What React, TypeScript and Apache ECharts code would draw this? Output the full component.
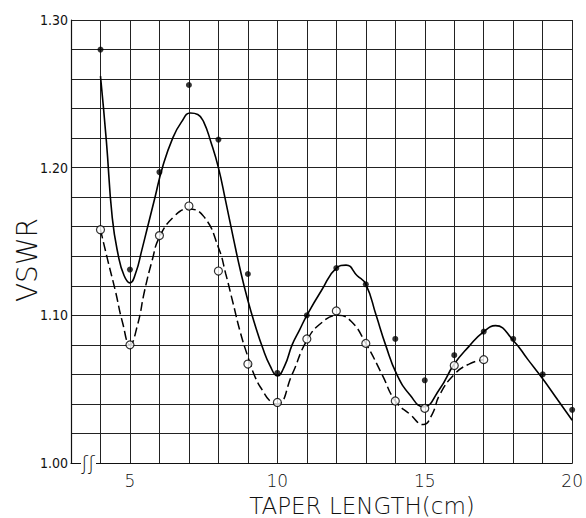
import React, { useEffect, useRef } from "react";
import * as echarts from "echarts";

// Measured points (filled dots) – upper data set
const solidDotX = [4, 5, 6, 7, 8, 9, 10, 11, 12, 13, 14, 15, 16, 17, 18, 19, 20];
const solidDotY = [1.28, 1.131, 1.197, 1.256, 1.219, 1.128, 1.061, 1.1, 1.132, 1.121, 1.084, 1.056, 1.073, 1.089, 1.084, 1.06, 1.036];

// Measured points (open circles) – lower data set
const openDotX = [4, 5, 6, 7, 8, 9, 10, 11, 12, 13, 14, 15, 16, 17];
const openDotY = [1.158, 1.08, 1.154, 1.174, 1.13, 1.067, 1.041, 1.084, 1.103, 1.081, 1.042, 1.037, 1.066, 1.07];

// Hand-drawn solid curve
const solidCurveX = [4, 4.2, 4.4, 4.6, 4.8, 5, 5.2, 5.4, 5.6, 5.85, 6.1, 6.45, 6.75, 7.05, 7.3, 7.5, 7.75, 8, 8.25, 8.5, 8.75, 9, 9.25, 9.5, 9.75, 10, 10.25, 10.5, 10.75, 11, 11.5, 12, 12.33, 12.7, 13, 13.35, 13.67, 14.05, 14.5, 14.95, 15.5, 16, 16.5, 17, 17.4, 18, 18.5, 19, 19.5, 20];
const solidCurveY = [1.262, 1.218, 1.166, 1.141, 1.127, 1.122, 1.129, 1.144, 1.16, 1.18, 1.2, 1.22, 1.231, 1.237, 1.236, 1.231, 1.217, 1.2, 1.177, 1.153, 1.13, 1.11, 1.093, 1.078, 1.066, 1.059, 1.066, 1.08, 1.09, 1.1, 1.117, 1.132, 1.134, 1.127, 1.121, 1.1, 1.08, 1.06, 1.046, 1.038, 1.05, 1.067, 1.079, 1.089, 1.093, 1.083, 1.07, 1.057, 1.043, 1.029];

// Hand-drawn dashed curve
const dashCurveX = [4, 4.25, 4.5, 4.75, 5, 5.25, 5.5, 5.75, 6, 6.5, 6.97, 7.5, 8, 8.25, 8.5, 8.75, 9, 9.25, 9.5, 9.75, 10, 10.5, 11, 11.5, 12.05, 12.5, 13, 13.55, 14, 14.5, 14.95, 15.25, 15.5, 16, 16.5, 17];
const dashCurveY = [1.158, 1.137, 1.117, 1.095, 1.08, 1.093, 1.117, 1.137, 1.153, 1.167, 1.172, 1.167, 1.146, 1.128, 1.108, 1.088, 1.072, 1.058, 1.049, 1.042, 1.04, 1.06, 1.083, 1.095, 1.1, 1.096, 1.081, 1.06, 1.042, 1.033, 1.026, 1.033, 1.046, 1.06, 1.067, 1.07];

const xTickLabels = [5, 10, 15, 20];
const yTickLabels = ["1.00", "1.10", "1.20", "1.30"];

const zip = (xs: number[], ys: number[]) => xs.map((x, i) => [x, ys[i]]);

export default function App() {
  const ref = useRef<HTMLDivElement>(null);
  useEffect(() => {
    if (!ref.current) return;
    const chart = echarts.init(ref.current, undefined, { renderer: "svg" });
    const narrow = "'Liberation Sans Narrow', 'DejaVu Sans Condensed', 'Liberation Sans', sans-serif";
    const light = "'DejaVu Sans', 'Liberation Sans', sans-serif";
    chart.setOption({
      animation: false,
      backgroundColor: "#ffffff",
      grid: { left: 71, right: 9, top: 20, bottom: 55, containLabel: false },
      xAxis: {
        type: "value",
        min: 3,
        max: 20,
        interval: 1,
        axisLine: { show: true, lineStyle: { color: "#111", width: 1.2 } },
        axisTick: { show: false },
        splitLine: { show: true, lineStyle: { color: "#222", width: 1 } },
        axisLabel: {
          color: "#111",
          fontSize: 17,
          fontFamily: light,
          fontWeight: 200,
          margin: 9,
          formatter: (v: number) => (xTickLabels.includes(Math.round(v)) && Math.abs(v - Math.round(v)) < 1e-6 ? String(Math.round(v)) : ""),
        },
      },
      yAxis: {
        type: "value",
        min: 1.0,
        max: 1.3,
        interval: 0.02,
        axisLine: { show: true, lineStyle: { color: "#111", width: 1.2 } },
        axisTick: { show: false },
        splitLine: { show: true, lineStyle: { color: "#222", width: 1 } },
        axisLabel: {
          color: "#111",
          fontSize: 14,
          fontFamily: narrow,
          margin: 3,
          formatter: (v: number) => {
            const s = v.toFixed(2);
            return yTickLabels.includes(s) ? s : "";
          },
        },
      },
      graphic: [
        { type: "rect", shape: { x: 81, y: 458, width: 15, height: 9 }, style: { fill: "#fff" }, z: 100 },
        {
          type: "text",
          x: 88,
          y: 463,
          z: 101,
          style: { text: "ʃʃ", font: "200 20px 'DejaVu Sans', sans-serif", fill: "#111", textAlign: "center", textVerticalAlign: "middle" },
        },
        {
          type: "text",
          x: 27,
          y: 260,
          rotation: Math.PI / 2,
          style: { text: "VSWR", font: "200 28px 'DejaVu Sans', sans-serif", fill: "#111", textAlign: "center", textVerticalAlign: "middle" },
        },
        {
          type: "text",
          x: 362,
          y: 506,
          style: { text: "TAPER LENGTH(cm)", font: "200 23px 'DejaVu Sans', sans-serif", fill: "#111", textAlign: "center", textVerticalAlign: "middle" },
        },
      ],
      series: [
        {
          type: "line",
          name: "solid curve",
          data: zip(solidCurveX, solidCurveY),
          smooth: 0.5,
          showSymbol: false,
          lineStyle: { color: "#000", width: 1.6 },
          z: 3,
        },
        {
          type: "line",
          name: "dashed curve",
          data: zip(dashCurveX, dashCurveY),
          smooth: 0.5,
          showSymbol: false,
          lineStyle: { color: "#000", width: 1.5, type: [9, 4] },
          z: 3,
        },
        {
          type: "scatter",
          name: "filled",
          data: zip(solidDotX, solidDotY),
          symbol: "circle",
          symbolSize: 6,
          itemStyle: { color: "#000" },
          z: 5,
        },
        {
          type: "scatter",
          name: "open",
          data: zip(openDotX, openDotY),
          symbol: "circle",
          symbolSize: 8,
          itemStyle: { color: "#fff", borderColor: "#000", borderWidth: 1.2 },
          z: 6,
        },
      ],
    });
    return () => chart.dispose();
  }, []);
  return <div ref={ref} style={{ position: "fixed", left: 0, top: 0, width: 586, height: 518 }} />;
}
